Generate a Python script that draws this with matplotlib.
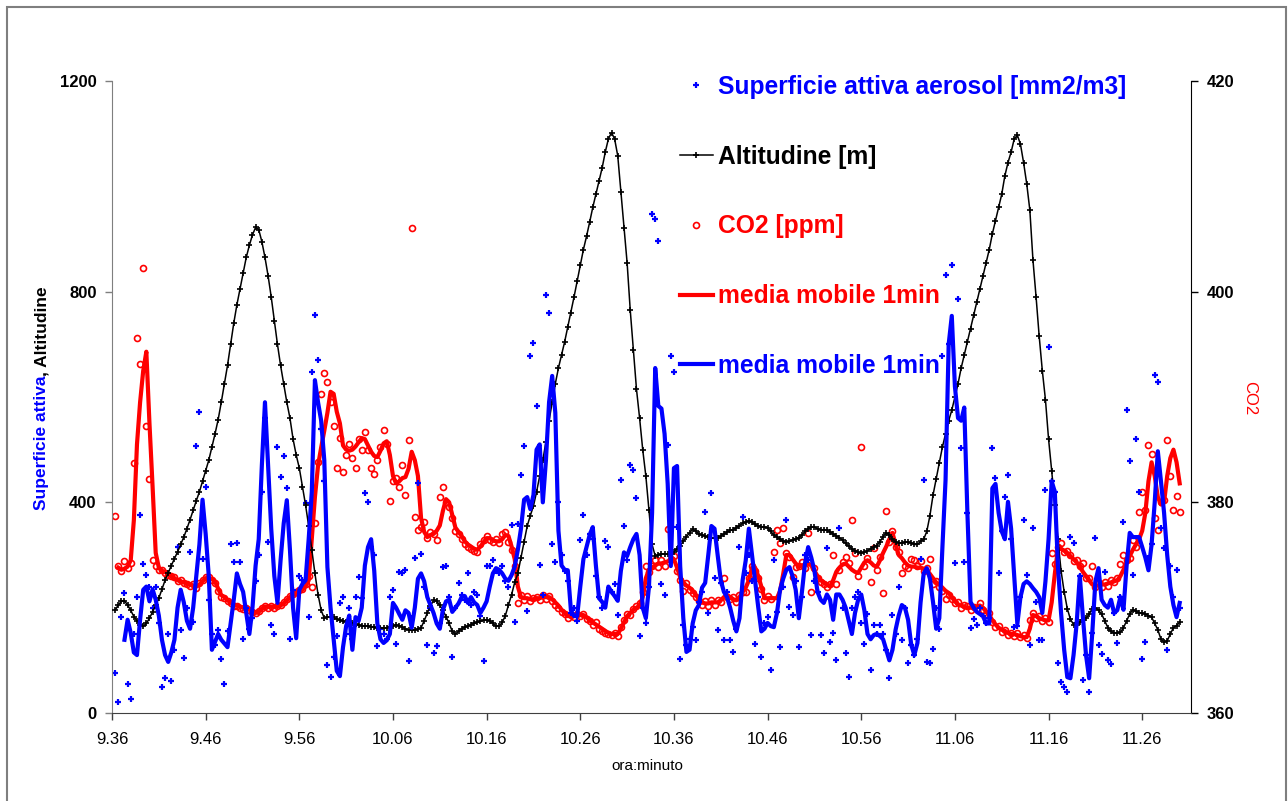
import numpy as np
import matplotlib
matplotlib.use("Agg")
import matplotlib.pyplot as plt
from matplotlib.lines import Line2D
from matplotlib.patches import Rectangle

plt.rcParams['font.family'] = ['Liberation Sans', 'DejaVu Sans']

# ---------------- data ----------------
tick_minutes = [0, 10, 20, 30, 40, 50, 60, 70, 80, 90, 100, 110]
tick_labels = ["9.36", "9.46", "9.56", "10.06", "10.16", "10.26",
               "10.36", "10.46", "10.56", "11.06", "11.16", "11.26"]

# sample times: every 20 s, in minutes after 9:36
minutes = np.arange(1, 343) / 3.0

altitudine = [
    195, 205, 212, 213, 205, 195,
    183, 175, 168, 165, 170, 180,
    192, 205, 218, 235, 252, 266,
    280, 293, 306, 320, 334, 350,
    367, 385, 403, 420, 440, 460,
    480, 505, 530, 557, 590, 625,
    660, 700, 740, 775, 805, 835,
    865, 888, 908, 922, 918, 895,
    865, 830, 790, 745, 700, 660,
    625, 590, 560, 520, 490, 465,
    430, 395, 355, 310, 265, 225,
    195, 180, 182, 183, 182, 178,
    176, 175, 173, 172, 170, 169,
    167, 166, 165, 165, 164, 163,
    162, 162, 161, 162, 164, 166,
    167, 166, 163, 160, 158, 158,
    158, 159, 162, 175, 190, 203,
    214, 212, 205, 195, 183, 170,
    155, 150, 155, 160, 163, 165,
    168, 170, 172, 174, 176, 177,
    175, 170, 165, 165, 172, 185,
    205, 225, 248, 265, 295, 325,
    355, 375, 393, 420, 450, 480,
    515, 555, 590, 625, 655, 680,
    705, 733, 760, 790, 820, 850,
    880, 905, 932, 960, 985, 1010,
    1035, 1065, 1090, 1102, 1090, 1058,
    990, 920, 855, 765, 690, 615,
    560, 500, 450, 385, 320, 298,
    300, 302, 302, 302, 304, 306,
    312, 318, 326, 335, 342, 349,
    345, 340, 338, 336, 334, 332,
    332, 332, 336, 340, 343, 347,
    348, 352, 356, 360, 363, 365,
    362, 358, 355, 354, 353, 352,
    345, 338, 334, 330, 327, 325,
    326, 329, 331, 333, 338, 345,
    350, 353, 353, 350, 348, 347,
    347, 344, 340, 336, 333, 328,
    322, 317, 312, 308, 305, 304,
    305, 308, 312, 315, 318, 325,
    335, 342, 338, 330, 325, 323,
    323, 324, 325, 323, 320, 320,
    326, 330, 345, 375, 414, 445,
    475, 505, 530, 555, 575, 600,
    625, 655, 680, 705, 730, 755,
    780, 805, 830, 855, 880, 910,
    935, 960, 985, 1020, 1045, 1065,
    1090, 1097, 1080, 1045, 1005, 955,
    860, 790, 715, 650, 595, 520,
    460, 395, 330, 270, 230, 198,
    178, 168, 168, 172, 176, 180,
    188, 198, 200, 195, 188, 175,
    162, 155, 152, 152, 153, 162,
    175, 188, 196, 193, 190, 190,
    188, 185, 182, 170, 158, 140,
    135, 137, 150, 162, 166, 172,
]

superficie = [
    76, 21, 182, 228, 55, 27,
    150, 220, 376, 283, 262, 240,
    200, 240, 170, 49, 66, 150,
    61, 120, 315, 158, 104, 200,
    306, 173, 507, 572, 292, 429,
    215, 150, 130, 158, 103, 55,
    156, 321, 287, 323, 287, 141,
    200, 160, 180, 250, 300, 420,
    560, 325, 167, 150, 505, 448,
    488, 427, 141, 234, 177, 260,
    252, 399, 182, 648, 756, 670,
    540, 440, 91, 68, 106, 146,
    209, 220, 150, 200, 140, 220,
    258, 218, 418, 401, 315, 300,
    127, 160, 150, 140, 220, 234,
    131, 268, 266, 271, 99, 180,
    294, 437, 302, 240, 129, 200,
    114, 127, 170, 277, 279, 220,
    106, 200, 247, 225, 215, 266,
    205, 230, 224, 185, 99, 279,
    279, 290, 270, 265, 280, 250,
    240, 357, 173, 359, 452, 507,
    194, 678, 703, 583, 281, 224,
    794, 760, 321, 287, 400, 300,
    270, 250, 190, 200, 175, 328,
    376, 300, 340, 330, 260, 220,
    200, 327, 315, 230, 245, 186,
    442, 355, 290, 471, 461, 408,
    146, 200, 170, 240, 947, 938,
    896, 245, 224, 509, 678, 648,
    353, 103, 167, 130, 140, 163,
    139, 210, 230, 382, 190, 418,
    256, 158, 247, 139, 230, 139,
    116, 160, 315, 372, 266, 300,
    250, 131, 220, 106, 170, 182,
    82, 290, 192, 125, 240, 366,
    201, 186, 250, 125, 220, 300,
    290, 148, 250, 230, 148, 114,
    313, 135, 152, 101, 351, 200,
    114, 68, 200, 220, 230, 171,
    131, 188, 82, 167, 150, 167,
    150, 120, 66, 186, 150, 239,
    139, 200, 95, 130, 110, 140,
    292, 442, 97, 95, 122, 200,
    160, 678, 832, 700, 851, 285,
    786, 503, 287, 380, 161, 178,
    167, 200, 184, 170, 180, 503,
    446, 266, 345, 410, 452, 330,
    163, 165, 220, 366, 262, 129,
    351, 211, 139, 139, 423, 695,
    440, 420, 95, 59, 49, 40,
    334, 323, 170, 260, 63, 110,
    40, 152, 332, 129, 112, 268,
    101, 93, 190, 133, 220, 363,
    575, 478, 262, 520, 420, 103,
    135, 295, 320, 642, 628, 351,
    313, 120, 279, 220, 272, 200,
]

superficie_mm = [
    np.nan, np.nan, np.nan, 139, 177, 152,
    115, 110, 177, 234, 240, 212,
    235, 215, 185, 139, 110, 97,
    115, 139, 200, 234, 210, 175,
    160, 200, 260, 320, 405, 340,
    260, 120, 135, 150, 139, 132,
    125, 170, 215, 265, 245, 230,
    190, 150, 200, 280, 330, 470,
    590, 470, 350, 260, 209, 290,
    360, 404, 310, 200, 142, 234,
    245, 252, 330, 420, 632, 590,
    555, 480, 277, 200, 140, 80,
    70, 125, 165, 185, 120, 182,
    175, 200, 280, 315, 330, 270,
    170, 140, 133, 138, 150, 209,
    200, 188, 177, 195, 190, 162,
    200, 255, 265, 250, 220, 205,
    190, 170, 160, 196, 212, 215,
    192, 200, 208, 220, 222, 209,
    220, 210, 205, 190, 200, 212,
    240, 265, 275, 272, 265, 255,
    251, 262, 278, 310, 350, 405,
    410, 387, 414, 500, 510, 400,
    480, 590, 640, 570, 346, 280,
    272, 271, 195, 184, 184, 240,
    292, 315, 338, 353, 280, 218,
    211, 200, 240, 230, 222, 213,
    270, 305, 298, 315, 330, 340,
    300, 200, 180, 240, 380, 655,
    583, 578, 530, 435, 279, 465,
    469, 279, 180, 116, 120, 170,
    195, 205, 238, 247, 300, 355,
    350, 300, 252, 230, 220, 200,
    175, 155, 180, 252, 290, 350,
    300, 250, 201, 155, 160, 171,
    165, 163, 190, 234, 255, 272,
    277, 260, 234, 180, 230, 285,
    315, 295, 270, 230, 215, 209,
    225, 215, 177, 225, 225, 215,
    200, 175, 150, 190, 215, 225,
    195, 150, 140, 148, 150, 146,
    140, 120, 100, 120, 158, 185,
    205, 200, 177, 130, 110, 133,
    210, 265, 275, 255, 210, 160,
    180, 315, 442, 700, 754, 620,
    560, 555, 580, 380, 211, 200,
    192, 188, 184, 170, 170, 427,
    435, 380, 345, 330, 401, 350,
    260, 169, 220, 245, 250, 245,
    237, 230, 220, 190, 250, 330,
    440, 420, 279, 190, 120, 68,
    66, 110, 170, 260, 182, 110,
    66, 152, 250, 275, 215, 205,
    200, 215, 190, 195, 220, 196,
    280, 342, 334, 334, 334, 315,
    295, 271, 320, 400, 497, 440,
    380, 300, 240, 205, 182, 209,
]

co2 = [
    378.7, 374.0, 373.5, 374.4, 373.8, 374.2,
    383.7, 395.6, 393.1, 402.2, 387.2, 382.2,
    374.5, 374.0, 373.6, 373.6, 373.3, 373.1,
    373.0, 372.9, 372.5, 372.6, 372.3, 372.2,
    372.1, 372.2, 371.9, 372.3, 372.6, 372.9,
    372.9, 372.6, 372.3, 371.6, 371.0, 370.9,
    370.6, 370.4, 370.2, 370.2, 370.0, 369.9,
    370.0, 369.8, 369.6, 369.5, 369.7, 370.0,
    370.2, 370.0, 370.2, 370.0, 370.2, 370.3,
    370.5, 370.8, 371.1, 371.3, 371.5, 371.7,
    371.8, 372.2, 373.0, 372.0, 378.0, 383.8,
    390.3, 392.3, 391.4, 389.5, 387.2, 383.3,
    386.1, 382.9, 384.5, 385.5, 384.2, 383.3,
    386.0, 385.0, 386.7, 385.0, 383.3, 382.7,
    384.0, 385.3, 386.9, 385.5, 380.1, 382.0,
    382.3, 381.5, 383.5, 380.7, 385.9, 406.0,
    378.6, 377.4, 377.7, 378.1, 376.6, 377.2,
    377.0, 376.4, 380.5, 381.5, 380.0, 379.6,
    378.5, 377.3, 377.0, 376.5, 376.0, 375.8,
    375.6, 375.4, 375.3, 376.0, 376.4, 376.8,
    376.4, 376.2, 376.5, 376.1, 377.0, 377.2,
    376.2, 375.5, 374.0, 370.4, 371.2, 370.7,
    371.1, 370.6, 370.9, 371.0, 370.7, 371.2,
    370.8, 371.1, 370.6, 370.3, 370.0, 369.6,
    369.4, 369.0, 369.3, 369.1, 369.4, 369.2,
    369.4, 368.9, 368.7, 368.4, 368.6, 368.0,
    367.8, 367.6, 367.5, 367.4, 367.6, 367.3,
    368.2, 368.8, 369.4, 369.3, 369.9, 370.2,
    370.4, 371.5, 374.0, 373.4, 374.0, 374.5,
    373.9, 374.5, 374.0, 377.5, 374.6, 374.9,
    373.5, 372.6, 371.6, 372.3, 371.7, 371.4,
    371.0, 370.6, 370.3, 370.6, 370.2, 370.7,
    370.3, 370.7, 370.5, 372.8, 371.0, 370.8,
    371.0, 370.5, 371.2, 371.5, 371.5, 372.8,
    374.0, 373.5, 372.8, 371.8, 370.7, 371.1,
    370.8, 375.3, 377.4, 376.1, 377.6, 375.2,
    374.8, 372.9, 373.9, 374.0, 374.3, 373.8,
    377.1, 371.5, 373.8, 372.8, 372.4, 372.2,
    372.0, 372.2, 375.0, 372.2, 373.6, 374.3,
    374.8, 374.2, 378.3, 375.2, 373.0, 385.3,
    374.0, 374.7, 372.4, 375.7, 373.6, 374.8,
    371.4, 379.2, 376.2, 377.3, 375.8, 375.3,
    373.3, 374.0, 373.8, 374.6, 374.5, 374.0,
    374.4, 373.5, 373.8, 374.6, 372.2, 372.5,
    372.0, 371.6, 370.8, 371.2, 370.8, 370.4,
    370.5, 370.0, 370.3, 370.2, 369.8, 370.1,
    369.9, 370.4, 369.8, 369.4, 369.5, 368.6,
    368.2, 368.3, 367.7, 367.9, 367.4, 367.6,
    367.3, 367.6, 367.2, 367.4, 367.1, 368.8,
    369.5, 369.0, 369.2, 368.7, 369.0, 368.6,
    375.2, 374.1, 375.8, 376.1, 375.3, 375.4,
    375.0, 374.4, 374.5, 374.0, 374.2, 372.8,
    372.8, 374.0, 372.0, 372.3, 372.0, 372.4,
    372.1, 372.6, 372.4, 372.8, 374.1, 375.0,
    374.5, 374.7, 376.4, 375.8, 379.1, 381.0,
    379.3, 385.4, 384.6, 378.5, 377.4, 380.0,
    380.2, 385.9, 382.5, 379.3, 380.6, 379.1,
]

co2_mm = [
    np.nan, 373.8, 373.6, 373.7, 373.9, 374.5,
    378.3, 385.5, 389.5, 392.5, 394.3, 387.5,
    381.5, 375.2, 373.8, 373.5, 373.4, 373.2,
    373.0, 372.8, 372.6, 372.5, 372.4, 372.3,
    372.2, 372.1, 372.0, 372.2, 372.5, 372.8,
    372.8, 372.7, 372.5, 371.8, 371.2, 371.0,
    370.7, 370.5, 370.3, 370.2, 370.1, 370.0,
    370.0, 369.9, 369.7, 369.5, 369.6, 369.9,
    370.1, 370.1, 370.1, 370.1, 370.1, 370.2,
    370.4, 370.7, 371.0, 371.2, 371.4, 371.6,
    371.7, 372.0, 372.6, 376.5, 380.5, 383.5,
    385.2, 386.8, 388.5, 390.5, 390.3, 388.6,
    387.5, 385.4, 385.0, 384.9, 385.0, 385.3,
    385.7, 386.1, 386.0, 385.4, 384.8, 384.4,
    384.3, 384.9, 385.6, 385.8, 384.5, 382.5,
    381.8, 382.0, 382.3, 382.4, 383.2, 384.8,
    384.0, 382.5, 378.5, 377.2, 376.7, 376.9,
    377.0, 377.3, 377.8, 379.2, 380.3, 380.0,
    378.8, 377.6, 377.2, 376.8, 376.3, 376.0,
    375.8, 375.6, 375.5, 375.8, 376.2, 376.6,
    376.6, 376.4, 376.3, 376.3, 376.5, 376.9,
    376.8, 375.8, 374.6, 372.0, 371.0, 370.9,
    370.9, 370.8, 370.8, 370.9, 370.9, 371.0,
    371.0, 371.0, 370.8, 370.5, 370.2, 369.8,
    369.5, 369.2, 369.2, 369.3, 369.3, 369.3,
    369.3, 369.1, 368.8, 368.6, 368.4, 368.2,
    368.0, 367.8, 367.6, 367.5, 367.5, 367.5,
    368.0, 368.6, 369.2, 369.5, 369.8, 370.0,
    370.2, 371.0, 372.8, 373.6, 373.8, 374.0,
    374.2, 374.2, 374.3, 374.4, 374.5, 374.6,
    373.8, 372.9, 372.4, 372.1, 371.9, 371.6,
    371.2, 370.8, 370.5, 370.4, 370.4, 370.5,
    370.5, 370.5, 370.7, 371.0, 371.2, 371.0,
    370.8, 370.7, 371.0, 371.5, 371.9, 372.6,
    373.8, 373.8, 373.0, 372.0, 370.9, 370.9,
    370.9, 370.9, 370.9, 371.6, 373.2, 375.0,
    375.0, 374.6, 374.2, 373.9, 374.0, 374.1,
    374.2, 374.0, 373.5, 373.0, 372.6, 372.4,
    372.2, 372.0, 372.6, 373.4, 373.8, 374.1,
    374.2, 373.9, 373.6, 373.4, 373.3, 373.8,
    374.3, 374.5, 374.3, 374.0, 373.9, 374.5,
    375.2, 375.8, 376.5, 377.1, 376.0, 375.0,
    374.7, 374.3, 374.0, 373.9, 373.9, 373.8,
    373.8, 373.7, 373.6, 373.2, 372.8, 372.4,
    372.2, 371.9, 371.6, 371.4, 371.0, 370.6,
    370.3, 370.2, 370.1, 370.0, 370.0, 370.0,
    370.1, 370.2, 370.0, 369.6, 369.3, 368.8,
    368.4, 368.1, 367.9, 367.8, 367.6, 367.5,
    367.5, 367.4, 367.3, 367.2, 367.2, 368.0,
    369.3, 369.2, 369.0, 368.9, 368.8, 368.8,
    370.5, 373.2, 375.6, 375.6, 375.4, 375.2,
    374.9, 374.6, 374.3, 373.9, 373.4, 373.0,
    372.6, 372.2, 372.1, 372.1, 372.2, 372.2,
    372.3, 372.4, 372.5, 372.6, 373.0, 373.6,
    374.3, 374.9, 375.5, 376.0, 376.5, 377.3,
    379.0, 382.0, 383.8, 382.5, 380.5, 379.8,
    380.0, 382.5, 384.2, 385.0, 383.8, 381.8,
]

legend_labels = ["Superficie attiva aerosol [mm2/m3]", "Altitudine [m]",
                 "CO2 [ppm]", "media mobile 1min", "media mobile 1min"]

# ---------------- figure ----------------
W, H = 1288, 801
fig = plt.figure(figsize=(W / 100, H / 100), dpi=100, facecolor='white')

# outer frame of the chart area
fig.add_artist(Rectangle((7 / W, -0.01), (1286 - 7) / W, 1 - 7 / H + 0.01,
                         transform=fig.transFigure, fill=False,
                         edgecolor='#7f7f7f', linewidth=1.5))

ax_l, ax_r, ax_t, ax_b = 112, 1191, 81, 713
ax = fig.add_axes([ax_l / W, 1 - ax_b / H, (ax_r - ax_l) / W, (ax_b - ax_t) / H])
ax2 = ax.twinx()
ax.set_zorder(ax2.get_zorder() + 1)
ax.patch.set_visible(False)

BLUE = '#0000ff'
RED = '#ff0000'

SC_MS, SC_MEW = 5.0, 1.6
ALT_MS, ALT_MEW, ALT_LW = 5.0, 1.2, 1.1
CO_MS, CO_MEW = 4.3, 1.2

# primary axis series
ax.plot(minutes, superficie, ls='none', marker='+', color=BLUE,
        markersize=SC_MS, markeredgewidth=SC_MEW, zorder=2)
ax.plot(minutes, altitudine, color='black', lw=ALT_LW, marker='+',
        markersize=ALT_MS, markeredgewidth=ALT_MEW, zorder=3)
ax.plot(minutes, superficie_mm, color=BLUE, lw=3.0, zorder=4)

# secondary axis series
ax2.plot(minutes, co2, ls='none', marker='o', markerfacecolor='none',
         markeredgecolor=RED, markersize=CO_MS, markeredgewidth=CO_MEW, zorder=2)
ax2.plot(minutes, co2_mm, color=RED, lw=3.0, zorder=3)

xmax = (ax_r - 111.5) / 9.37
ax.set_xlim(0, xmax)
ax.set_ylim(0, 1200)
ax2.set_ylim(360, 420)

ax.set_xticks(tick_minutes)
ax.set_xticklabels(tick_labels, fontsize=12)
ax.set_yticks([0, 400, 800, 1200])
ax.set_yticklabels(['0', '400', '800', '1200'], fontsize=12, fontweight='bold')
ax2.set_yticks([360, 380, 400, 420])
ax2.set_yticklabels(['360', '380', '400', '420'], fontsize=12, fontweight='bold')

ax.tick_params(axis='x', direction='out', length=5, width=1, pad=9, colors='#404040',
               labelcolor='black')
ax.tick_params(axis='y', direction='out', length=5, width=1, pad=6, colors='#7f7f7f',
               labelcolor='black')
ax2.tick_params(axis='y', direction='out', length=5, width=1, pad=6, colors='black',
                labelcolor='black')

for a in (ax, ax2):
    a.spines['top'].set_visible(False)
ax.spines['right'].set_visible(False)
ax2.spines['left'].set_visible(False)
ax2.spines['bottom'].set_visible(False)
ax.spines['left'].set_color('#7f7f7f')
ax.spines['bottom'].set_color('#404040')
ax2.spines['right'].set_color('black')

ax.set_xlabel('ora:minuto', fontsize=11)
ax.xaxis.set_label_coords((647 - ax_l) / (ax_r - ax_l), (ax_b - 759) / (ax_b - ax_t))

# right label
fig.text(1250 / W, 1 - 398 / H, 'CO2', color=RED, fontsize=12, rotation=270,
         ha='center', va='center')

# two-coloured left label
fig.canvas.draw()
renderer = fig.canvas.get_renderer()
lx = 42 / W
t1 = fig.text(lx, 1 - 510 / H, 'Superficie attiva', color=BLUE, fontsize=12.5,
              fontweight='bold', rotation=90, ha='center', va='bottom')
bb = t1.get_window_extent(renderer)
t2 = fig.text(lx, (bb.y1) / fig.bbox.height, ', Altitudine', color='black', fontsize=12.5,
              fontweight='bold', rotation=90, ha='center', va='bottom')

# legend
handles = [
    Line2D([], [], ls='none', marker='+', color=BLUE, markersize=SC_MS, markeredgewidth=SC_MEW),
    Line2D([], [], color='black', lw=ALT_LW, marker='+', markersize=ALT_MS,
           markeredgewidth=ALT_MEW),
    Line2D([], [], ls='none', marker='o', markerfacecolor='none', markeredgecolor=RED,
           markersize=CO_MS, markeredgewidth=CO_MEW),
    Line2D([], [], color=RED, lw=3.0),
    Line2D([], [], color=BLUE, lw=3.0),
]
leg = ax.legend(handles, legend_labels, loc='upper left',
                bbox_to_anchor=(680 / W, 1 - 75 / H), bbox_transform=fig.transFigure,
                frameon=False, prop={'size': 17.7, 'weight': 'bold'},
                handlelength=1.34, handletextpad=0.2, labelspacing=1.86,
                borderpad=0, borderaxespad=0, numpoints=1)
for txt, c in zip(leg.get_texts(), [BLUE, 'black', RED, RED, BLUE]):
    txt.set_color(c)
leg.set_zorder(10)

fig.savefig('out.png', dpi=100, facecolor='white')
